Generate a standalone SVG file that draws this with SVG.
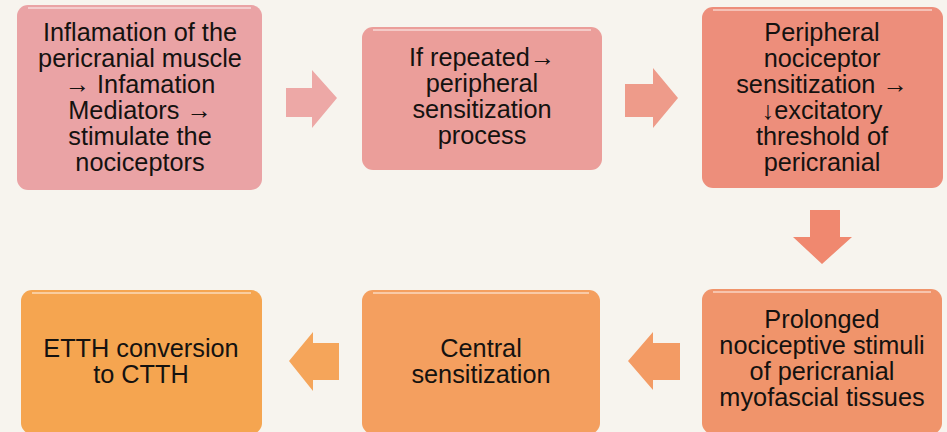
<svg xmlns="http://www.w3.org/2000/svg" width="947" height="432" viewBox="0 0 947 432">
  <style>
    .box { stroke: none; }
    .hl { fill: none; stroke: #ffffff; stroke-opacity: 0.45; stroke-width: 2; }
    .lbl { font-family: "Liberation Sans", Arial, sans-serif; font-size: 25.3px; fill: #141210; text-anchor: middle; }
  </style>
  <rect x="0" y="0" width="947" height="432" fill="#f7f4ee"/>

  <g id="connectors">
    <polygon points="286,88 312,88 312,70 337,98 312,128 312,117 286,117" fill="#eda8a6"/>
    <polygon points="625,84 653,84 653,68 678,98 653,128 653,117 625,117" fill="#ee9b8a"/>
    <polygon points="810,210 840,210 840,237 852,237 822,264 793,237 810,237" fill="#f0886f"/>
    <polygon points="680,343 653,343 653,332 628,361 653,390 653,380 680,380" fill="#f39b64"/>
    <polygon points="339,343 313,343 313,332 289,361 313,391 313,380 339,380" fill="#f5a55a"/>
  </g>

  <g id="n1">
    <rect class="box" x="17" y="5" width="245" height="185" rx="11" fill="#eaa3a5"/>
    <path class="hl" d="M28,8 H251"/>
    <text class="lbl" x="140" y="41">Inflamation of the</text>
    <text class="lbl" x="140" y="67">pericranial muscle</text>
    <text class="lbl" x="140" y="93">→ Infamation</text>
    <text class="lbl" x="140" y="119">Mediators →</text>
    <text class="lbl" x="140" y="145">stimulate the</text>
    <text class="lbl" x="140" y="171">nociceptors</text>
  </g>

  <g id="n2">
    <rect class="box" x="362" y="27" width="240" height="143" rx="11" fill="#eb9e9a"/>
    <path class="hl" d="M373,30 H591"/>
    <text class="lbl" x="482" y="66">If repeated→</text>
    <text class="lbl" x="482" y="92">peripheral</text>
    <text class="lbl" x="482" y="118">sensitization</text>
    <text class="lbl" x="482" y="144">process</text>
  </g>

  <g id="n3">
    <rect class="box" x="702" y="7" width="241" height="181" rx="11" fill="#ed8e7b"/>
    <path class="hl" d="M713,10 H932"/>
    <text class="lbl" x="822" y="41">Peripheral</text>
    <text class="lbl" x="822" y="67">nociceptor</text>
    <text class="lbl" x="822" y="93">sensitization →</text>
    <text class="lbl" x="822" y="119">↓excitatory</text>
    <text class="lbl" x="822" y="145">threshold of</text>
    <text class="lbl" x="822" y="171">pericranial</text>
  </g>

  <g id="n4">
    <rect class="box" x="702" y="289" width="240" height="145" rx="11" fill="#f0946b"/>
    <path class="hl" d="M713,292 H931"/>
    <text class="lbl" x="822" y="328">Prolonged</text>
    <text class="lbl" x="822" y="354">nociceptive stimuli</text>
    <text class="lbl" x="822" y="380">of pericranial</text>
    <text class="lbl" x="822" y="406">myofascial tissues</text>
  </g>

  <g id="n5">
    <rect class="box" x="362" y="290" width="238" height="144" rx="11" fill="#f49f5f"/>
    <path class="hl" d="M373,293 H589"/>
    <text class="lbl" x="481" y="357">Central</text>
    <text class="lbl" x="481" y="383">sensitization</text>
  </g>

  <g id="n6">
    <rect class="box" x="21" y="290" width="241" height="144" rx="11" fill="#f5a550"/>
    <path class="hl" d="M32,293 H251"/>
    <text class="lbl" x="141" y="357">ETTH conversion</text>
    <text class="lbl" x="141" y="383">to CTTH</text>
  </g>
</svg>
